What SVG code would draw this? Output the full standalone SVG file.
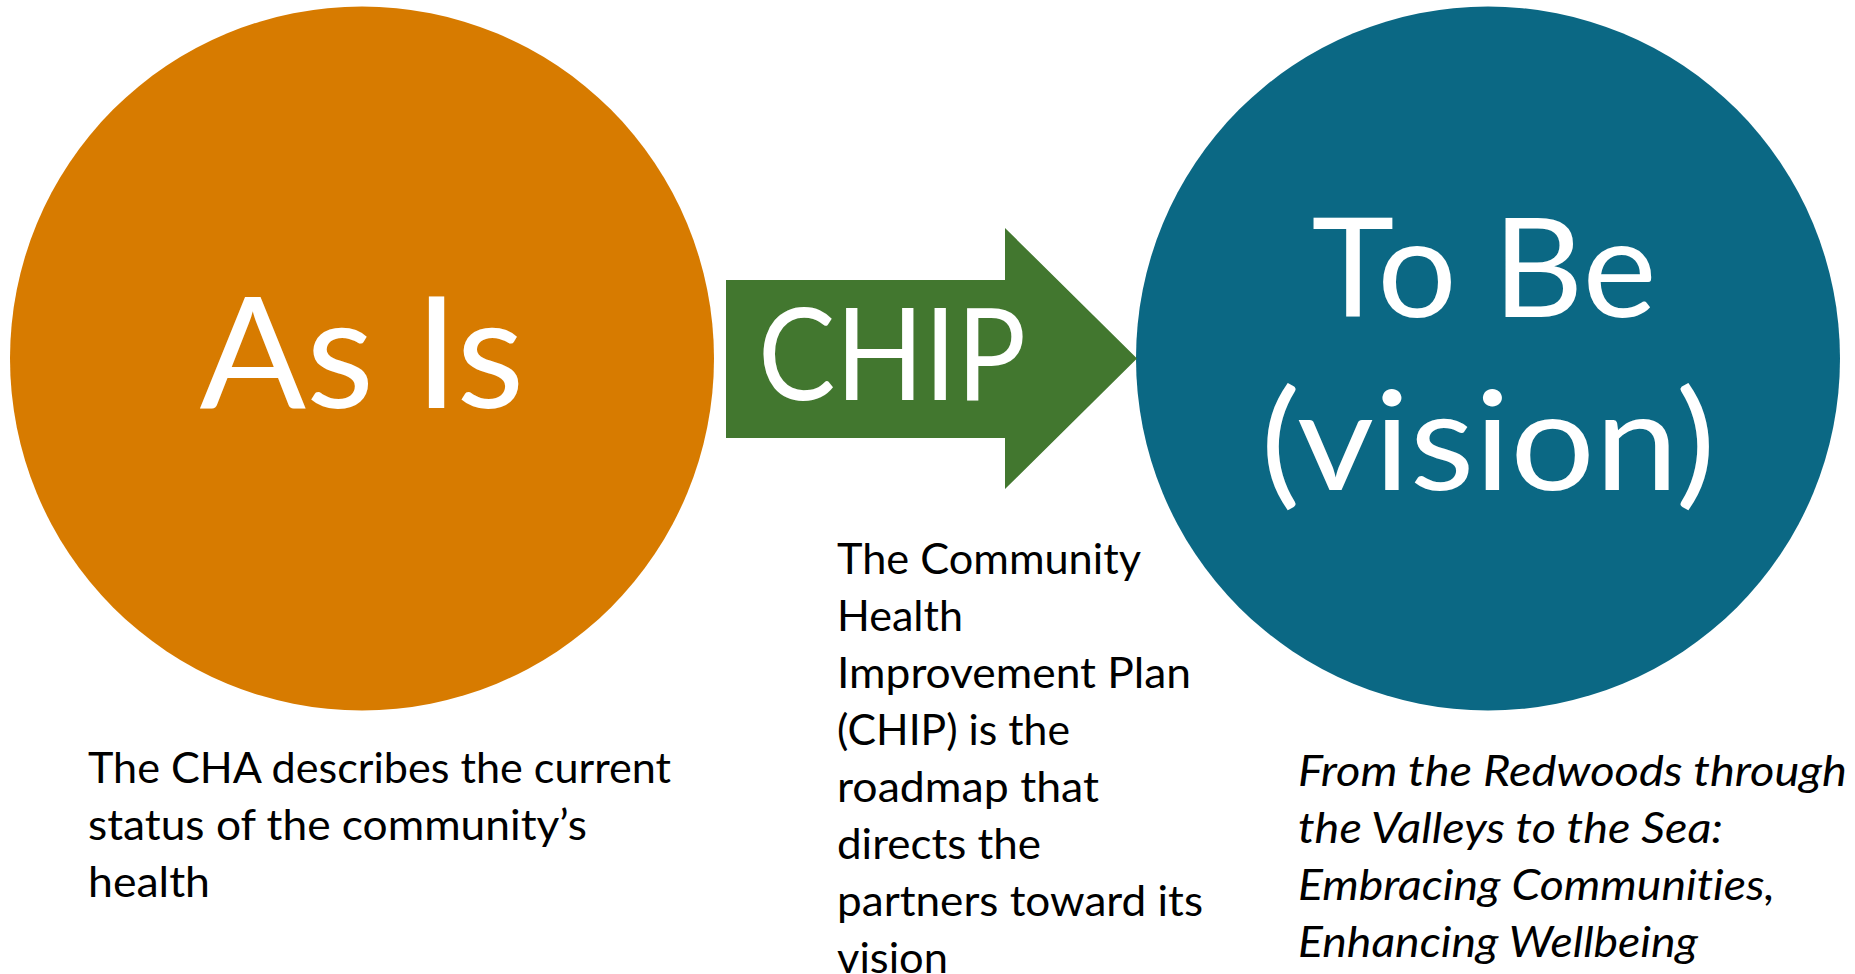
<svg xmlns="http://www.w3.org/2000/svg" width="1855" height="974" viewBox="0 0 1855 974">
<style>
.big{font-family:Lato,"Open Sans","Liberation Sans",sans-serif;fill:#FFFFFF;text-anchor:middle}
.body{font-family:Lato,"Open Sans","Liberation Sans",sans-serif;font-size:42px;fill:#000000;font-variant-ligatures:none}
.it{font-style:italic}
</style>
<rect x="0" y="0" width="1855" height="974" fill="#FFFFFF"/>
<g id="as-is">
<circle cx="362" cy="358.5" r="352" fill="#D77B00"/>
<text class="big" x="362" y="408" font-size="155" textLength="325" lengthAdjust="spacingAndGlyphs">As Is</text>
</g>
<g id="to-be">
<circle cx="1488" cy="358.5" r="352" fill="#0B6884"/>
<text class="big" x="1484" y="317" font-size="138" textLength="345" lengthAdjust="spacingAndGlyphs">To Be</text>
<text class="big" x="1488" y="490" font-size="138" textLength="455" lengthAdjust="spacingAndGlyphs">(vision)</text>
</g>
<g id="connectors">
<g id="chip">
<polygon points="726,280 1005,280 1005,228 1137,358.5 1005,489 1005,438 726,438" fill="#42772F"/>
<text class="big" x="892" y="400" font-size="128" textLength="268" lengthAdjust="spacingAndGlyphs">CHIP</text>
</g>
</g>
<g id="cha-text">
<text class="body" x="88" y="783" textLength="583" lengthAdjust="spacingAndGlyphs">The CHA describes the current</text>
<text class="body" x="88" y="840" textLength="499" lengthAdjust="spacingAndGlyphs">status of the community’s</text>
<text class="body" x="88" y="897" textLength="122" lengthAdjust="spacingAndGlyphs">health</text>
</g>
<g id="chip-text">
<text class="body" x="837" y="574" textLength="304" lengthAdjust="spacingAndGlyphs">The Community</text>
<text class="body" x="837" y="631" textLength="126" lengthAdjust="spacingAndGlyphs">Health</text>
<text class="body" x="837" y="688" textLength="354" lengthAdjust="spacingAndGlyphs">Improvement Plan</text>
<text class="body" x="837" y="745" textLength="233" lengthAdjust="spacingAndGlyphs">(CHIP) is the</text>
<text class="body" x="837" y="802" textLength="262" lengthAdjust="spacingAndGlyphs">roadmap that</text>
<text class="body" x="837" y="859" textLength="204" lengthAdjust="spacingAndGlyphs">directs the</text>
<text class="body" x="837" y="916" textLength="366" lengthAdjust="spacingAndGlyphs">partners toward its</text>
<text class="body" x="837" y="973" textLength="111" lengthAdjust="spacingAndGlyphs">vision</text>
</g>
<g id="vision-text">
<text class="body it" x="1298" y="786" textLength="549" lengthAdjust="spacingAndGlyphs">From the Redwoods through</text>
<text class="body it" x="1298" y="843" textLength="425" lengthAdjust="spacingAndGlyphs">the Valleys to the Sea:</text>
<text class="body it" x="1298" y="900" textLength="477" lengthAdjust="spacingAndGlyphs">Embracing Communities,</text>
<text class="body it" x="1298" y="957" textLength="400" lengthAdjust="spacingAndGlyphs">Enhancing Wellbeing</text>
</g>
</svg>
